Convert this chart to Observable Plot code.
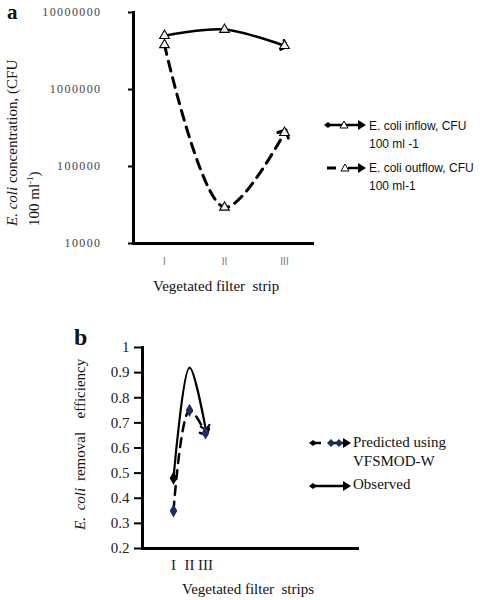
<!DOCTYPE html>
<html>
<head>
<meta charset="utf-8">
<script src="https://cdn.jsdelivr.net/npm/d3@7"></script>
<script src="https://cdn.jsdelivr.net/npm/@observablehq/plot@0.6"></script>
<style>
  body { margin: 0; background: #fff; }
  #wrap { position: relative; width: 486px; height: 600px; background: #fff; overflow: hidden; }
  .abs { position: absolute; white-space: nowrap; }
  .serif { font-family: "Liberation Serif", "DejaVu Serif", serif; color: #111; }
  .sans { font-family: "Liberation Sans", "DejaVu Sans", sans-serif; color: #111; }
  .rot { transform-origin: 0 0; transform: rotate(-90deg); }
  #pa g[aria-label="y-axis tick label"] text { letter-spacing: 1.4px; }
</style>
</head>
<body>
<div id="wrap">
  <div id="pa" class="abs" style="left:0;top:0"></div>
  <div id="pb" class="abs" style="left:0;top:300px"></div>

  <div class="abs serif" style="left:7px;top:0px;font-size:21px;font-weight:bold">a</div>
  <div class="abs serif" style="left:74px;top:324px;font-size:24px;font-weight:bold">b</div>

  <!-- panel a y title -->
  <div class="abs serif rot" style="left:3px;top:226px;font-size:15px;line-height:18px;text-align:left">
    <i>E. coli</i> concentration, (CFU<br>100 ml<sup style="font-size:9px">-1</sup>)
  </div>
  <!-- panel a x title -->
  <div class="abs serif" style="left:153px;top:278px;font-size:15px">Vegetated filter&nbsp; strip</div>

  <!-- panel a legend -->
  <div class="abs" style="left:324px;top:118px">
    <svg width="42" height="14"><line x1="3" y1="7" x2="36" y2="7" stroke="#000" stroke-width="2.5"/><path d="M0,7 L4,4 L8,7 L4,10Z" fill="#000"/><path d="M34,2 L42,7 L34,12Z" fill="#000"/><path d="M20,3 L24,10 L16,10Z" fill="#fff" stroke="#000" stroke-width="1"/></svg>
  </div>
  <div class="abs sans" style="left:369px;top:117px;font-size:12px;line-height:18px">E. coli inflow, CFU<br>100 ml -1</div>
  <div class="abs" style="left:324px;top:161px">
    <svg width="42" height="14"><line x1="3" y1="7" x2="12" y2="7" stroke="#000" stroke-width="3"/><line x1="24" y1="7" x2="36" y2="7" stroke="#000" stroke-width="2.5"/><path d="M34,2 L42,7 L34,12Z" fill="#000"/><path d="M21,3 L25,10 L17,10Z" fill="#fff" stroke="#000" stroke-width="1"/></svg>
  </div>
  <div class="abs sans" style="left:369px;top:159px;font-size:12px;line-height:18px">E. coli outflow, CFU<br>100 ml-1</div>

  <!-- panel b y title -->
  <div class="abs serif rot" style="left:72px;top:530px;font-size:15px;word-spacing:3px"><i>E. coli</i> removal&nbsp; efficiency</div>
  <!-- panel b x title -->
  <div class="abs serif" style="left:182px;top:581px;font-size:15px">Vegetated filter&nbsp; strips</div>

  <!-- panel b legend -->
  <div class="abs" style="left:309px;top:436px">
    <svg width="42" height="14"><line x1="3" y1="7" x2="12" y2="7" stroke="#000" stroke-width="2.5"/><line x1="24" y1="7" x2="36" y2="7" stroke="#000" stroke-width="2.5"/><path d="M0,7 L4,4 L8,7 L4,10Z" fill="#000"/><path d="M18,7 L22,3 L26,7 L22,11Z" fill="#1c2f5e"/><path d="M26,7 L30,3 L34,7 L30,11Z" fill="#1c2f5e"/><path d="M34,2 L42,7 L34,12Z" fill="#000"/></svg>
  </div>
  <div class="abs serif" style="left:353px;top:433px;font-size:15px;line-height:19px">Predicted using<br>VFSMOD-W</div>
  <div class="abs" style="left:309px;top:479px">
    <svg width="42" height="14"><line x1="3" y1="7" x2="36" y2="7" stroke="#000" stroke-width="2.5"/><path d="M0,7 L4,4 L8,7 L4,10Z" fill="#000"/><path d="M34,2 L42,7 L34,12Z" fill="#000"/></svg>
  </div>
  <div class="abs serif" style="left:353px;top:476px;font-size:15px">Observed</div>
</div>

<script>
// ---------- data ----------
const strips = ["I", "II", "III"];
const inflowCFU = [5.0e6, 6.0e6, 3.7e6];
const outflowCFU = [3.8e6, 2.95e4, 2.75e5];
const concTicks = [1e4, 1e5, 1e6, 1e7];

const predictedEff = [0.35, 0.75, 0.66];
const observedEff = [0.48, 0.92, 0.68];
const effTicks = [0.2, 0.3, 0.4, 0.5, 0.6, 0.7, 0.8, 0.9, 1];

// ---------- tables ----------
const inRows = strips.map((s, i) => ({strip: s, v: inflowCFU[i]}));
const outRows = strips.map((s, i) => ({strip: s, v: outflowCFU[i]}));
const predRows = strips.map((s, i) => ({strip: s, v: predictedEff[i]}));
const obsRows = strips.map((s, i) => ({strip: s, v: observedEff[i]}));

const serif = "Liberation Serif, DejaVu Serif, serif";

// ---------- panel a ----------
const pa = Plot.plot({
  width: 486, height: 300,
  marginLeft: 133, marginRight: 172, marginTop: 12, marginBottom: 57,
  style: {background: "transparent", fontFamily: serif},
  x: {type: "point", domain: strips, padding: 0.5, axis: null},
  y: {type: "log", domain: [1e4, 1e7], axis: null},
  marks: [
    Plot.axisY({ticks: concTicks, tickSize: 5, tickPadding: 27, tickFormat: d3.format("d"),
      fontSize: 12, fill: "#444", strokeWidth: 2, label: null}),
    Plot.axisX({ticks: strips, tickSize: 0, tickPadding: 14, fontSize: 10,
      fontFamily: "Liberation Sans, sans-serif", fill: "#777", label: null}),
    Plot.frame({anchor: "left", strokeWidth: 3}),
    Plot.ruleY([1e4], {strokeWidth: 3}),
    Plot.line(outRows, {x: "strip", y: "v", curve: "catmull-rom", stroke: "#000",
      strokeWidth: 3, strokeDasharray: "10,7", markerEnd: "arrow"}),
    Plot.line(inRows, {x: "strip", y: "v", curve: "catmull-rom", stroke: "#000",
      strokeWidth: 2.5, markerEnd: "arrow"}),
    Plot.dot(outRows, {x: "strip", y: "v", symbol: "triangle", r: 3.6, fill: "#eee", stroke: "#000", strokeWidth: 1.1}),
    Plot.dot(inRows, {x: "strip", y: "v", symbol: "triangle", r: 3.6, fill: "#eee", stroke: "#000", strokeWidth: 1.1})
  ]
});
document.getElementById("pa").appendChild(pa);

// ---------- panel b ----------
const pb = Plot.plot({
  width: 486, height: 300,
  marginLeft: 142, marginRight: 127, marginTop: 47, marginBottom: 52,
  style: {background: "transparent", fontFamily: serif},
  x: {type: "point", domain: strips, range: [165, 213], axis: null},
  y: {type: "linear", domain: [0.2, 1], axis: null},
  marks: [
    Plot.axisY({ticks: effTicks, tickSize: 8, tickPadding: 5, tickFormat: d3.format("~g"),
      fontSize: 15, fill: "#222", strokeWidth: 2, label: null}),
    Plot.axisX({ticks: strips, tickSize: 0, tickPadding: 11, fontSize: 15, fill: "#222", label: null}),
    Plot.frame({anchor: "left", strokeWidth: 3}),
    Plot.ruleY([0.2], {strokeWidth: 3}),
    Plot.line(predRows, {x: "strip", y: "v", curve: "catmull-rom", stroke: "#000",
      strokeWidth: 2.5, strokeDasharray: "9,7", markerEnd: "arrow"}),
    Plot.line(obsRows, {x: "strip", y: "v", curve: "catmull-rom", stroke: "#000",
      strokeWidth: 2.2, markerEnd: "arrow"}),
    Plot.dot(predRows, {x: "strip", y: "v", symbol: "diamond", r: 4, fill: "#1c2f5e"}),
    Plot.dot(obsRows.slice(0, 1), {x: "strip", y: "v", symbol: "diamond", r: 4, fill: "#000"})
  ]
});
document.getElementById("pb").appendChild(pb);
</script>
</body>
</html>
